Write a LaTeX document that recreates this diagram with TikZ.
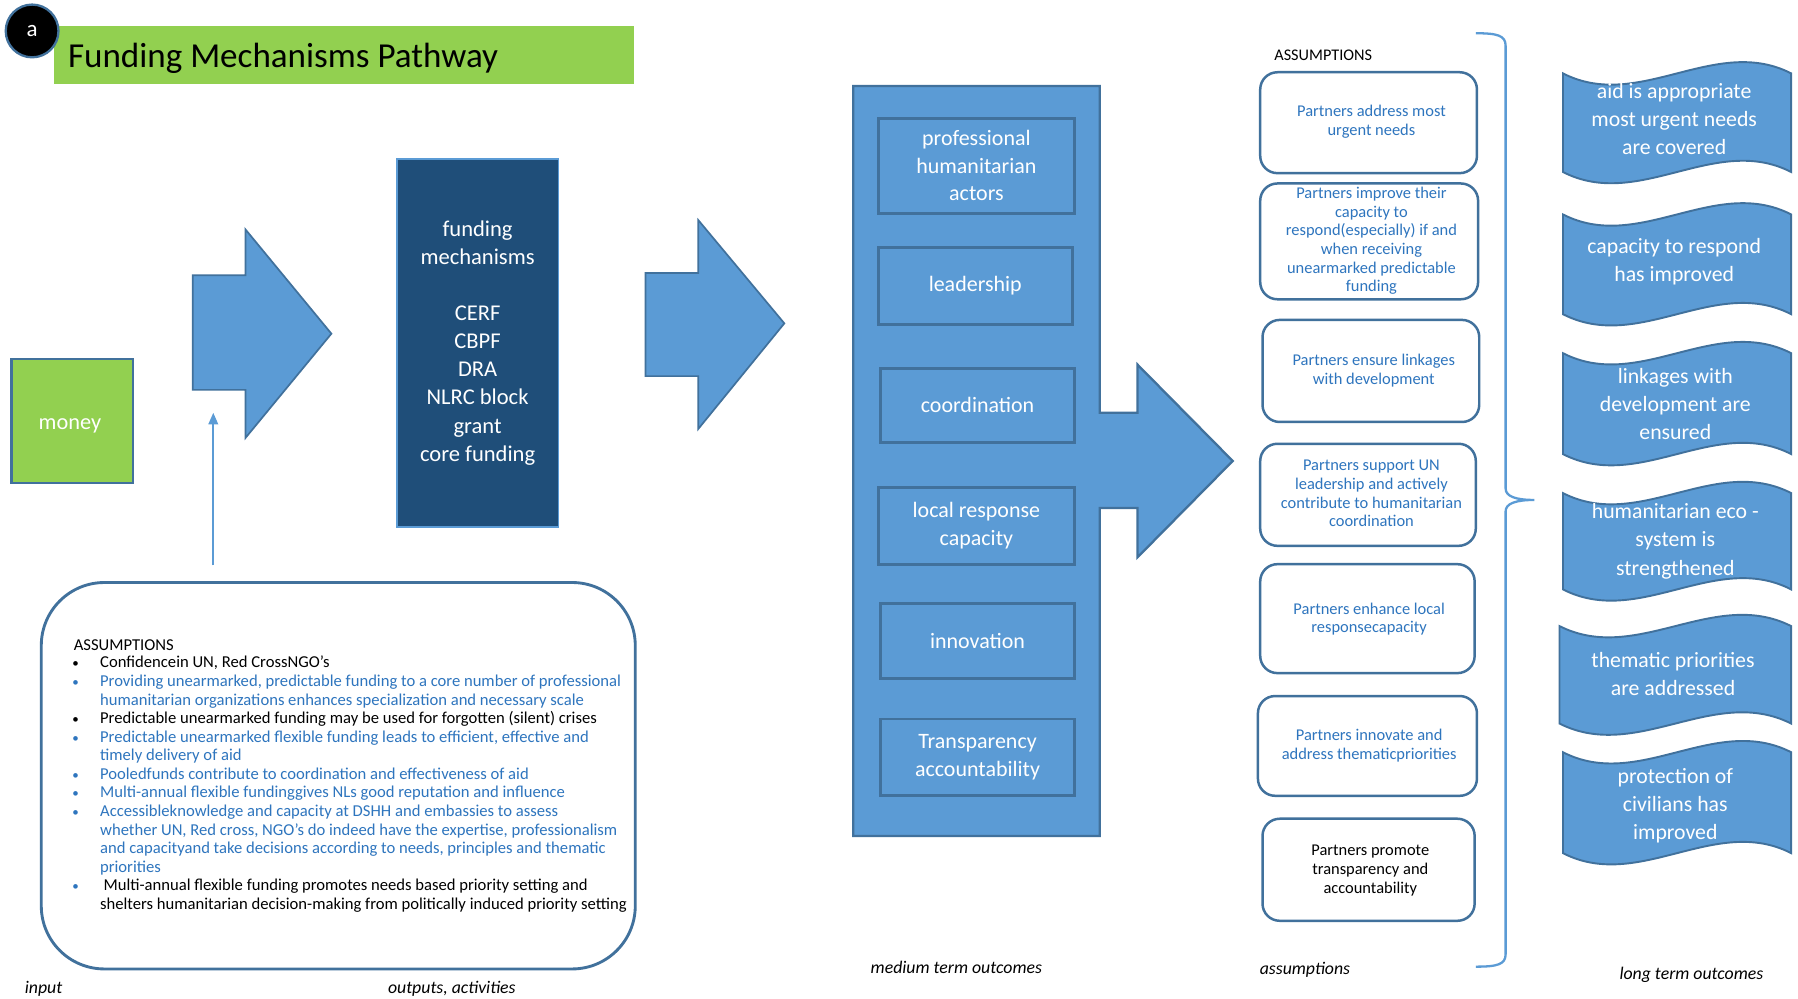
\documentclass[tikz,border=0pt]{standalone}
\usepackage{fontspec}
\setmainfont{Carlito}
\usetikzlibrary{arrows.meta}
\definecolor{arrowblue}{RGB}{91,155,213}
\definecolor{edgeblue}{RGB}{65,113,156}
\definecolor{navyfill}{RGB}{31,78,121}
\definecolor{limefill}{RGB}{146,208,80}
\definecolor{textblue}{RGB}{46,117,190}
\newcommand\wavebanner[4]{%
  \path[bannerstyle] (#1,#3) .. controls ({#1+(#2-#1)/3},{#3+34}) and ({#1+2*(#2-#1)/3},{#3-34}) .. (#2,#3)
    -- (#2,#4) .. controls ({#1+2*(#2-#1)/3},{#4-34}) and ({#1+(#2-#1)/3},{#4+34}) .. (#1,#4) -- cycle;}
\begin{document}
\begin{tikzpicture}[x=0.6pt,y=-0.6pt,
  blockarrow/.style={fill=arrowblue,draw=edgeblue,line width=0.9pt,line join=miter},
  bannerstyle/.style={fill=arrowblue,draw=edgeblue,line width=1pt},
  bannertext/.style={text=white,align=center,inner sep=0,font=\fontsize{11.4pt}{14.7pt}\selectfont},
  pbox/.style={draw=edgeblue,line width=1.5pt,fill=arrowblue,text=white,align=center,inner sep=0,font=\fontsize{11.5pt}{14.4pt}\selectfont},
  abox/.style={draw=edgeblue,line width=1.3pt,fill=white,rounded corners=9pt,inner sep=0},
  atext/.style={text=textblue,align=center,inner sep=0,font=\fontsize{8.6pt}{9.8pt}\selectfont},
  lst/.style={anchor=base west,inner sep=0,font=\fontsize{8.7pt}{9.7pt}\selectfont},
  blt/.style={anchor=base,inner sep=0,font=\fontsize{6.8pt}{9.7pt}\selectfont},
  caption/.style={inner sep=0,font=\fontsize{9.3pt}{11pt}\selectfont\itshape},
  thinarrow/.style={draw=arrowblue,line width=0.9pt,-{Triangle[width=5pt,length=6pt]}}
]
\useasboundingbox (0,0) rectangle (1568,871);
\fill[white] (0,0) rectangle (1568,871);

% title
\node[fill=limefill,minimum width={506*0.6pt},minimum height={50*0.6pt},inner sep=0] (titlebar) at (300,48) {};
\node[anchor=base west,inner sep=0,font=\fontsize{18.35pt}{20pt}\selectfont] (titletext) at (59,59) {Funding Mechanisms Pathway};
\node[circle,fill=black,draw=edgeblue,line width=1.2pt,minimum size={46*0.6pt},inner sep=0,text=white,font=\fontsize{12pt}{14pt}\selectfont] (badge) at (28,27) {a};

% money
\node[fill=limefill,draw=edgeblue,line width=1.2pt,minimum width={106*0.6pt},minimum height={108*0.6pt},inner sep=0] (money) at (63,367) {};
\node[inner sep=0,text=white,font=\fontsize{11.7pt}{14pt}\selectfont] (moneytext) at (61,371) {money};

% arrow 1
\path[blockarrow] (168,240) -- (214,240) -- (214,200) -- (289,291) -- (214,382) -- (214,340) -- (168,340) -- cycle;

% funding mechanisms
\node[fill=navyfill,draw=arrowblue,line width=0.8pt,minimum width={141*0.6pt},minimum height={321*0.6pt},inner sep=0,text=white,align=center,font=\fontsize{11.8pt}{14.7pt}\selectfont] (fund) at (416.5,299) {funding\\mechanisms\\[14.7pt]CERF\\CBPF\\DRA\\NLRC block\\grant\\core funding};

% arrow 2
\path[blockarrow] (563,238) -- (609,238) -- (609,192) -- (684,282) -- (609,374) -- (609,328) -- (563,328) -- cycle;

% medium term panel with arrow
\path[fill=arrowblue,draw=edgeblue,line width=1.2pt,line join=miter] (744,75) -- (959,75) -- (959,360) -- (992,360) -- (992,318) -- (1075,402) -- (992,486) -- (992,443) -- (959,443) -- (959,729) -- (744,729) -- cycle;
\node[pbox,minimum width={171*0.6pt},minimum height={83*0.6pt}] (m1) at (851.5,144.5) {professional\\humanitarian\\actors};
\node[pbox,minimum width={169*0.6pt},minimum height={67*0.6pt}] (m2) at (850.5,249.5) {leadership};
\node[pbox,minimum width={169*0.6pt},minimum height={65*0.6pt}] (m3) at (852.5,353.5) {coordination};
\node[pbox,minimum width={171*0.6pt},minimum height={67*0.6pt}] (m4) at (851.5,458.5) {local response\\capacity};
\node[pbox,minimum width={169*0.6pt},minimum height={66*0.6pt}] (m5) at (852.5,559) {innovation};
\node[pbox,minimum width={169*0.6pt},minimum height={67*0.6pt}] (m6) at (852.5,660.5) {Transparency\\accountability};

% assumptions column
\node[anchor=base west,inner sep=0,font=\fontsize{8.5pt}{9.8pt}\selectfont] (ahead) at (1111,52.5) {ASSUMPTIONS};
\node[abox,minimum width={189*0.6pt},minimum height={88*0.6pt}] (a1) at (1193.5,107) {};
\node[atext] (a1t) at (1196,106) {Partners address most\\urgent needs};
\node[abox,minimum width={190*0.6pt},minimum height={101*0.6pt}] (a2) at (1194,210.5) {};
\node[atext] (a2t) at (1196,210) {Partners improve their\\capacity to\\respond(especially) if and\\when receiving\\unearmarked predictable\\funding};
\node[abox,minimum width={189*0.6pt},minimum height={89*0.6pt}] (a3) at (1195.5,323.5) {};
\node[atext] (a3t) at (1198,323) {Partners ensure linkages\\with development};
\node[abox,minimum width={188*0.6pt},minimum height={89*0.6pt}] (a4) at (1193,431.5) {};
\node[atext] (a4t) at (1196,430.5) {Partners support UN\\leadership and actively\\contribute to humanitarian\\coordination};
\node[abox,minimum width={187*0.6pt},minimum height={95*0.6pt}] (a5) at (1192.5,539.5) {};
\node[atext] (a5t) at (1194,540) {Partners enhance local\\responsecapacity};
\node[abox,minimum width={191*0.6pt},minimum height={87*0.6pt}] (a6) at (1192.5,650.5) {};
\node[atext] (a6t) at (1194,650) {Partners innovate and\\address thematicpriorities};
\node[abox,minimum width={185*0.6pt},minimum height={89*0.6pt}] (a7) at (1193.5,758.5) {};
\node[atext,text=black] (a7t) at (1195,759) {Partners promote\\transparency and\\accountability};

% brace
\draw[arrowblue,line width=1.2pt] (1287,29) .. controls (1306,29) and (1313,31) .. (1313,40) -- (1313,426) .. controls (1313,433) and (1322,436) .. (1338,436) .. controls (1322,436) and (1313,439) .. (1313,446) -- (1313,832) .. controls (1313,841) and (1306,843) .. (1287,843);

% long term banners
\wavebanner{1363}{1562}{64}{150}
\node[bannertext] (l1) at (1460,104) {aid is appropriate\\most urgent needs\\are covered};
\wavebanner{1363}{1562}{187}{274}
\node[bannertext] (l2) at (1460,228.5) {capacity to respond\\has improved};
\wavebanner{1363}{1562}{308}{396}
\node[bannertext] (l3) at (1461,352) {linkages with\\development are\\ensured};
\wavebanner{1363}{1562}{430}{514}
\node[bannertext] (l4) at (1461,472) {humanitarian eco -\\system is\\strengthened};
\wavebanner{1360}{1562}{546}{631}
\node[bannertext] (l5) at (1459,588) {thematic priorities\\are addressed};
\wavebanner{1363}{1562}{656}{744}
\node[bannertext] (l6) at (1461,703) {protection of\\civilians has\\improved};

% bottom-left assumptions
\node[draw=edgeblue,line width=1.5pt,fill=white,rounded corners=33pt,minimum width={518*0.6pt},minimum height={337*0.6pt},inner sep=0] (bigA) at (295,676.5) {};
\node[lst] (bh) at (64,567.5) {ASSUMPTIONS};
\node[blt] (b0) at (66,582.5) {•};
\node[lst] (t0) at (87,582.5) {Confidencein UN, Red CrossNGO’s};
\node[blt,text=textblue] (b1) at (66,598.7) {•};
\node[lst,text=textblue] (t1) at (87,598.7) {Providing unearmarked, predictable funding to a core number of professional};
\node[lst,text=textblue] (t2) at (87,614.9) {humanitarian organizations enhances specialization and necessary scale};
\node[blt] (b3) at (66,631.1) {•};
\node[lst] (t3) at (87,631.1) {Predictable unearmarked funding may be used for forgotten (silent) crises};
\node[blt,text=textblue] (b4) at (66,647.3) {•};
\node[lst,text=textblue] (t4) at (87,647.3) {Predictable unearmarked flexible funding leads to efficient, effective and};
\node[lst,text=textblue] (t5) at (87,663.5) {timely delivery of aid};
\node[blt,text=textblue] (b6) at (66,679.7) {•};
\node[lst,text=textblue] (t6) at (87,679.7) {Pooledfunds contribute to coordination and effectiveness of aid};
\node[blt,text=textblue] (b7) at (66,695.9) {•};
\node[lst,text=textblue] (t7) at (87,695.9) {Multi-annual flexible fundinggives NLs good reputation and influence};
\node[blt,text=textblue] (b8) at (66,712.1) {•};
\node[lst,text=textblue] (t8) at (87,712.1) {Accessibleknowledge and capacity at DSHH and embassies to assess};
\node[lst,text=textblue] (t9) at (87,728.3) {whether UN, Red cross, NGO's do indeed have the expertise, professionalism};
\node[lst,text=textblue] (t10) at (87,744.5) {and capacityand take decisions according to needs, principles and thematic};
\node[lst,text=textblue] (t11) at (87,760.7) {priorities};
\node[blt,text=textblue] (b12) at (66,776.9) {•};
\node[lst] (t12) at (90,776.9) {Multi-annual flexible funding promotes needs based priority setting and};
\node[lst] (t13) at (87,793.1) {shelters humanitarian decision-making from politically induced priority setting};

% thin arrow
\coordinate (thinfrom) at (186,493);
\coordinate (thinto) at (186,360);
\draw[thinarrow] (thinfrom) -- (thinto);

% captions
\node[caption] (cin) at (38,862) {input};
\node[caption] (cout) at (394,862) {outputs, activities};
\node[caption] (cmed) at (834,844) {medium term outcomes};
\node[caption] (cass) at (1138,846) {assumptions};
\node[caption] (clong) at (1475,850) {long term outcomes};
\end{tikzpicture}
\end{document}
